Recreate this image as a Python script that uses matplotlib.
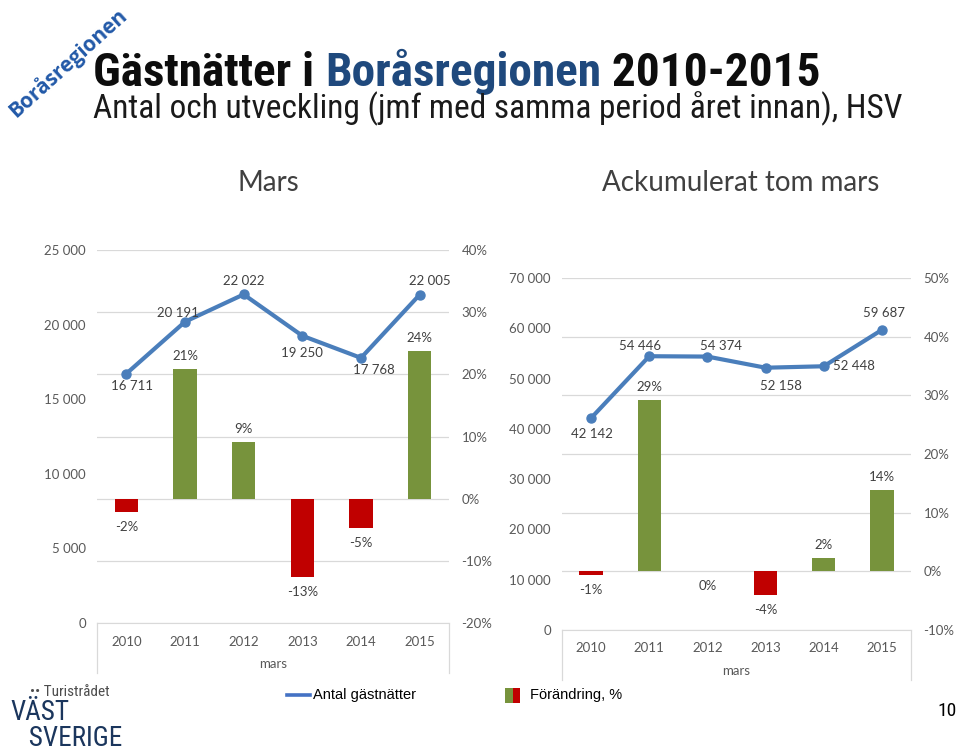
import matplotlib
matplotlib.use("Agg")
import matplotlib.pyplot as plt
from matplotlib import font_manager as fm
from matplotlib.patches import Rectangle
from matplotlib.lines import Line2D

# ---------------- data ----------------
years = ["2010", "2011", "2012", "2013", "2014", "2015"]
mars_nights = [16711, 20191, 22022, 19250, 17768, 22005]
mars_change = [-2.2, 20.8, 9.1, -12.6, -4.7, 23.8]
acc_nights = [42142, 54446, 54374, 52158, 52448, 59687]
acc_change = [-0.7, 29.2, 0.1, -4.1, 2.2, 13.8]
panel_titles = ["Mars", "Ackumulerat tom mars"]
x_group = "mars"
legend_labels = ["Antal gästnätter", "Förändring, %"]

# label offsets (pixels) for the line data labels
mars_lbl_off = [(6, -12), (-7, 9), (0, 13), (0, -17), (13, -12), (10, 14)]
acc_lbl_off = [(1, -16), (-9, 10), (14, 11), (15, -18), (30, 0), (2, 17)]

W, H = 960, 754
fig = plt.figure(figsize=(W / 100, H / 100), dpi=100)
fig.patch.set_facecolor("white")

avail = {f.name for f in fm.fontManager.ttflist}
def pick(*names):
    for n in names:
        if n in avail:
            return n
    return "DejaVu Sans"

chart_font = pick("Lato", "Open Sans", "DejaVu Sans")
cond_font = pick("Liberation Sans Narrow", "Roboto Condensed", "Open Sans Condensed",
                 "DejaVu Sans Condensed", "Open Sans")
title_font = pick("Open Sans", "Roboto", "DejaVu Sans")
arial = pick("Liberation Sans", "DejaVu Sans")

GREEN = "#77933C"
RED = "#C00000"
LINE = "#4A7EBB"
GRID = "#D9D9D9"
TXT = "#595959"
LBL = "#404040"


def fx(px):
    return px / W


def fy(py):
    return 1 - py / H


def thou(v):
    return f"{v:,.0f}".replace(",", " ")


def panel(left, top, right, bottom, nights, change, lmax, rmin, rmax, offs):
    rect = [fx(left), fy(bottom), fx(right) - fx(left), fy(top) - fy(bottom)]
    axL = fig.add_axes(rect)
    axR = axL.twinx()
    axL.set_zorder(3)
    axR.set_zorder(2)
    axL.patch.set_visible(False)
    x = list(range(len(years)))
    # bars (right axis)
    cols = [GREEN if v >= 0 else RED for v in change]
    axR.bar(x, change, width=0.4, color=cols, zorder=2)
    axR.set_ylim(rmin, rmax)
    axR.set_yticks(range(rmin, rmax + 1, 10))
    axR.set_yticklabels([f"{t}%" for t in range(rmin, rmax + 1, 10)])
    axR.grid(axis="y", color=GRID, lw=0.9)
    axR.set_axisbelow(True)
    for xi, v in zip(x, change):
        lab = f"{round(v):.0f}%"
        dy = 13 if v > 0.5 else -15
        axR.annotate(lab, (xi, v if v > 0.5 else min(v, 0)), xytext=(0, dy),
                     textcoords="offset pixels", ha="center", va="center",
                     fontsize=9.5, color=LBL, family=chart_font, zorder=5)
    # line (left axis)
    axL.plot(x, nights, color=LINE, lw=3, marker="o", ms=6.5, zorder=4,
             solid_capstyle="round")
    axL.set_ylim(0, lmax)
    step = lmax // 5 if lmax == 25000 else 10000
    axL.set_yticks(range(0, lmax + 1, step))
    axL.set_yticklabels([thou(t) for t in range(0, lmax + 1, step)])
    for xi, v, (ox, oy) in zip(x, nights, offs):
        axL.annotate(thou(v), (xi, v), xytext=(ox, oy), textcoords="offset pixels",
                     ha="center", va="center", fontsize=9.5, color=LBL,
                     family=chart_font, zorder=6)
    axL.set_xlim(-0.5, len(years) - 0.5)
    axL.set_xticks(x)
    axL.set_xticklabels(years)
    for a in (axL, axR):
        for s in a.spines.values():
            s.set_visible(False)
        a.tick_params(length=0, labelsize=9.5, labelcolor=TXT)
        for t in a.get_xticklabels() + a.get_yticklabels():
            t.set_family(chart_font)
    axL.tick_params(axis="y", pad=8)
    axR.tick_params(axis="y", pad=9)
    axL.tick_params(axis="x", pad=9)
    axL.spines["bottom"].set_visible(True)
    axL.spines["bottom"].set_color(GRID)
    hpx = bottom - top
    for xa in (0, 1):
        axL.plot([xa, xa], [0, -50 / hpx], transform=axL.transAxes, color=GRID,
                 lw=0.9, clip_on=False)
    axL.text(0.5, -41 / hpx, x_group, transform=axL.transAxes, ha="center",
             va="center", fontsize=9.5, color=TXT, family=chart_font)
    return axL, axR


panel(97, 250, 449, 623, mars_nights, mars_change, 25000, -20, 40, mars_lbl_off)
panel(562, 278, 911, 630, acc_nights, acc_change, 70000, -10, 50, acc_lbl_off)

# panel headings
fig.text(fx(268), fy(183), panel_titles[0], ha="center", va="center", fontsize=20,
         color=LBL, family=chart_font)
fig.text(fx(741), fy(183), panel_titles[1], ha="center", va="center", fontsize=20,
         color=LBL, family=chart_font)

# ---------------- title ----------------
fig.canvas.draw()
r = fig.canvas.get_renderer()


def width(s, **kw):
    t = fig.text(0, 0, s, **kw)
    w = t.get_window_extent(r).width
    t.remove()
    return w


def fit_size(s, target, base, **kw):
    w = width(s, fontsize=base, **kw)
    return base * target / w


tkw = dict(family=cond_font, fontweight="bold")
title_parts = [("Gästnätter i ", "#0D0D0D"), ("Boråsregionen", "#1F497D"), (" 2010-2015", "#0D0D0D")]
full = "".join(p for p, _ in title_parts)
ts = fit_size(full, 747, 30, **tkw)
ts = min(ts, 34)
x0 = 93
prefix = ""
for s, c in title_parts:
    off = width(prefix + "|", fontsize=ts, **tkw) - width("|", fontsize=ts, **tkw) if prefix else 0
    fig.text(fx(x0 + off), fy(86), s, ha="left", va="baseline", fontsize=ts, color=c, **tkw)
    prefix += s

sub = "Antal och utveckling (jmf med samma period året innan), HSV"
skw = dict(family=cond_font, fontweight="normal")
ss = fit_size(sub, 817, 20, **skw)
ss = min(ss, 24)
fig.text(fx(93), fy(118), sub, ha="left", va="baseline", fontsize=ss, color="#1A1A1A", **skw)

# rotated brand text
fig.text(fx(68), fy(63), "Boråsregionen", rotation=42, ha="center", va="center",
         fontsize=15, color="#2259A8", fontweight="bold", family=title_font)

# ---------------- legend ----------------
fig.add_artist(Line2D([fx(287), fx(310)], [fy(695), fy(695)], color="#4472C4", lw=2.6))
fig.text(fx(313), fy(695), legend_labels[0], ha="left", va="center", fontsize=10.5,
         color="black", family=arial)
fig.add_artist(Rectangle((fx(505), fy(703)), fx(7.5), 15 / H, color=GREEN, lw=0))
fig.add_artist(Rectangle((fx(512.5), fy(703)), fx(7.5), 15 / H, color=RED, lw=0))
fig.text(fx(530), fy(695), legend_labels[1], ha="left", va="center", fontsize=10.5,
         color="black", family=arial)

# page number
fig.text(fx(957), fy(711), "10", ha="right", va="center", fontsize=14, color="black",
         family=cond_font)

# logo text
fig.text(fx(30), fy(692), "•• Turistrådet", ha="left", va="center", fontsize=11,
         color="#4D4D4D", family=cond_font)
fig.text(fx(10), fy(746), "VÄST\n   SVERIGE", ha="left", va="baseline", fontsize=19.5,
         color="#1B365D", family=cond_font, linespacing=0.95, multialignment="left")

fig.savefig("out.png", dpi=100, facecolor="white")
